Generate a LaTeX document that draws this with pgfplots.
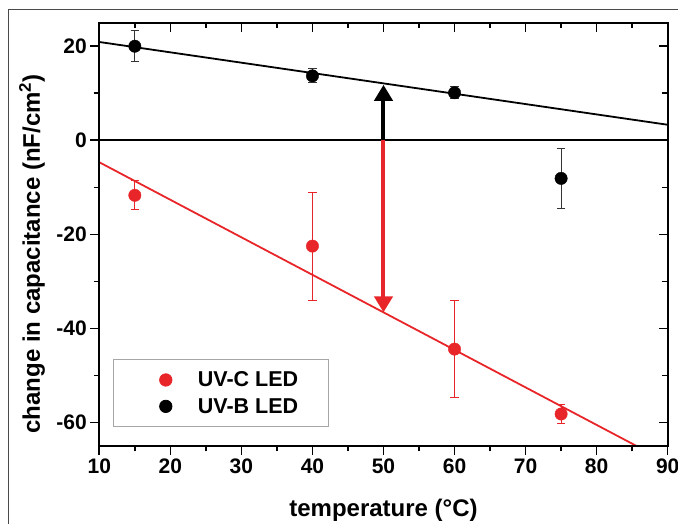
\documentclass[border=0pt]{standalone}
\usepackage{fontspec}
\setmainfont{Liberation Sans}
\usepackage{pgfplots}
\pgfplotsset{compat=1.18}
\usetikzlibrary{arrows.meta}
\definecolor{LedRed}{HTML}{E8262A}
\definecolor{Frame}{HTML}{4A4A4A}
\pgfplotsset{
  ledimg/.style={legend image code/.code={\path (-24pt,0pt) (20pt,0pt); \draw[##1] plot coordinates {(0pt,0pt)};}},
  base/.style={scale only axis, width=568.4pt, height=423.3pt,
    xmin=10, xmax=90, ymin=-65, ymax=25,
    xtick={10,20,...,90}, ytick={-60,-40,...,20},
    minor xtick={15,25,...,85}, minor ytick={-50,-30,...,10},
    axis line style={line width=2pt},
    major tick length=9pt, minor tick length=5.5pt,
    tick style={black, line width=1.6pt},
    /pgf/number format/assume math mode=true,
    ticklabel style={font=\bfseries\fontsize{21}{21}\selectfont},
  }
}

\begin{document}
\begin{tikzpicture}
\begin{axis}[base, name=main, tick align=outside,
  xtick pos=left, ytick pos=left,
  xlabel={temperature (°C)},
  ylabel={change in capacitance (nF/cm\textsuperscript{2})},
  label style={font=\bfseries\fontsize{24}{24}\selectfont},
  xlabel style={at={(rel axis cs:0.5,0)}, anchor=center, yshift=-64pt},
  ylabel style={at={(rel axis cs:0,0.4536)}, anchor=center, yshift=67.3pt},
  legend cell align=left,
  legend style={at={(0.0241,0.2048)}, anchor=north west,
    draw=gray!70, line width=0.8pt, inner xsep=28pt, inner ysep=10pt,
    row sep=6pt, font=\bfseries\fontsize{21.5}{21.5}\selectfont,
    /tikz/every odd column/.append style={column sep=9.7pt}},
  error bars/y dir=both, error bars/y explicit,
]
% fitted lines and zero line
\addplot[black, line width=1.8pt, forget plot] coordinates {(10,20.9) (90,3.3)};
\addplot[LedRed, line width=1.8pt, forget plot] coordinates {(10,-4.67) (90,-68.5)};
\addplot[black, line width=1.8pt, forget plot] coordinates {(10,0) (90,0)};
% arrows at 50 C
\addplot[LedRed, line width=4pt, -{Triangle[width=18pt,length=16pt]}, forget plot]
  coordinates {(50,0) (50,-36.6)};
\addplot[black, line width=4pt, -{Triangle[width=18pt,length=16pt]}, forget plot]
  coordinates {(50,0.3) (50,11.8)};
% data
\addplot[LedRed, only marks, mark=*, mark size=6.2pt, ledimg,
  error bars/error bar style={LedRed, line width=1pt},
  error bars/error mark options={rotate=90, mark size=4.3pt, line width=1pt}]
  coordinates {(15,-11.7) +- (0,3.1) (40,-22.5) +- (0,11.5) (60,-44.4) +- (0,10.3) (75,-58.2) +- (0,2)};
\addlegendentry{UV-C LED}
\addplot[black, only marks, mark=*, mark size=6.2pt, ledimg,
  error bars/error bar style={black!80, line width=1pt},
  error bars/error mark options={rotate=90, mark size=4.3pt, line width=1pt}]
  coordinates {(15,20) +- (0,3.3) (40,13.7) +- (0,1.5) (60,10.1) +- (0,1.3) (75,-8.1) +- (0,6.3)};
\addlegendentry{UV-B LED}
\end{axis}
\begin{axis}[base, tick align=inside, xtick pos=right, ytick pos=right,
  xticklabels={}, yticklabels={}]
\end{axis}
\begin{scope}[shift={(main.south west)}]
\draw[Frame, line width=1pt] (-90.3pt,-80pt) -- (-90.3pt,436pt) -- (580pt,436pt);
\pgfresetboundingbox
\useasboundingbox (-99.3pt,-78pt) rectangle (578.7pt,446pt);
\end{scope}
\end{tikzpicture}
\end{document}
